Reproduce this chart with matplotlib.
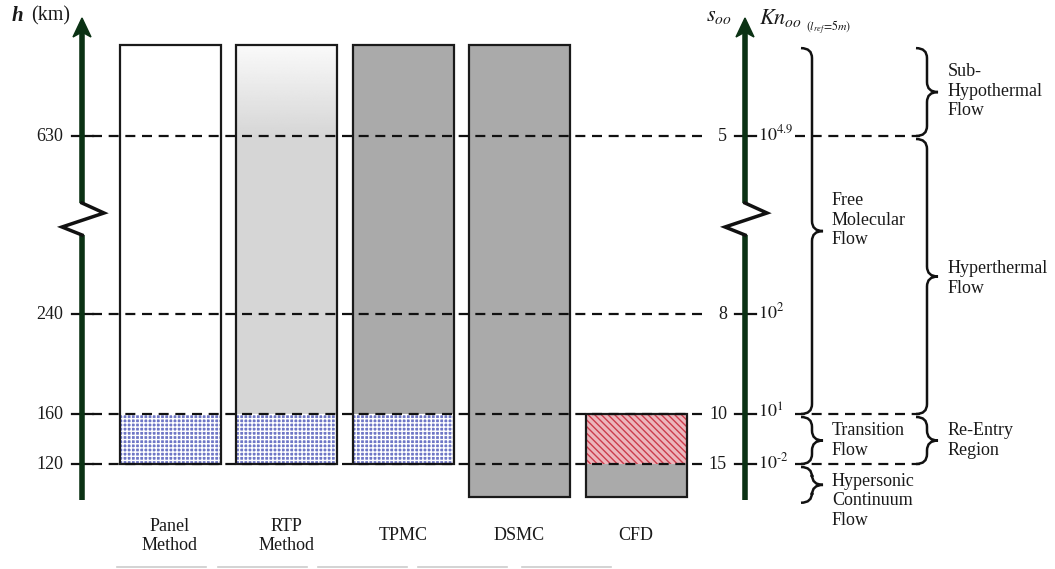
import numpy as np
import matplotlib.pyplot as plt
from matplotlib.patches import Rectangle, Polygon, PathPatch
from matplotlib.path import Path

plt.rcParams['font.family'] = ['Liberation Serif', 'DejaVu Serif']
plt.rcParams['mathtext.fontset'] = 'stix'
plt.rcParams['hatch.linewidth'] = 1.0

# altitude levels and the matching speed ratio / Knudsen number
h_km = [630, 240, 160, 120]
s_inf = ['5', '8', '10', '15']
kn_labels = [r'$10^{4.9}$', r'$10^{2}$', r'$10^{1}$', r'$10^{\text{-}2}$']
h_top, h_bot = 828, 93.6

methods = ['Panel\nMethod', 'RTP\nMethod', 'TPMC', 'DSMC', 'CFD']
# (kind, upper h, lower h) for each column
segments = [
    [('white', h_top, 160), ('dots', 160, 120)],
    [('grad', h_top, 630), ('light', 630, 160), ('dots', 160, 120)],
    [('gray', h_top, 160), ('dots', 160, 120)],
    [('gray', h_top, h_bot)],
    [('red', 160, 120), ('gray', 120, h_bot)],
]

# flow regimes: (label, upper h, lower h)
regimes_left = [('Free\nMolecular\nFlow', h_top, 160),
                ('Transition\nFlow', 160, 120),
                ('Hypersonic\nContinuum\nFlow', 120, 89)]
regimes_right = [('Sub-\nHypothermal\nFlow', h_top, 630),
                 ('Hyperthermal\nFlow', 630, 160),
                 ('Re-Entry\nRegion', 160, 120)]
left_text_shift = [-11, 0, 16]
right_text_shift = [-1, 2, 0]


def hy(h):
    # broken altitude scale: compressed above 240 km
    h = np.asarray(h, float)
    return np.where(h <= 240, 464 - (h - 120) * 1.25, 315 - (h - 240) * (179 / 390.))


def col_x(i):
    return 170 + i * 116.5


fig = plt.figure(figsize=(10.55, 5.69), dpi=100)
ax = fig.add_axes([0, 0, 1, 1])
ax.set_xlim(0, 1055)
ax.set_ylim(569, 0)
ax.axis('off')

GREEN = '#0b3214'
TXT = '#1a1a1a'
bw = 101
styles = {
    'white': dict(facecolor='white'),
    'light': dict(facecolor='#d6d6d6'),
    'gray': dict(facecolor='#aaaaaa'),
    'dots': dict(facecolor='#6f77c6', hatch='++++', edgecolor='white'),
    'red': dict(facecolor='#ecb6bc', hatch='\\\\\\\\\\', edgecolor='#cc3c4c'),
}

for i, segs in enumerate(segments):
    x0 = col_x(i) - bw / 2
    for kind, hi, lo in segs:
        y0, y1 = float(hy(hi)), float(hy(lo))
        if kind == 'grad':
            g = np.linspace(0.98, 0.84, 100)[:, None]
            ax.imshow(g, cmap='gray', vmin=0, vmax=1, aspect='auto',
                      extent=(x0, x0 + bw, y1, y0), interpolation='bilinear', zorder=1)
        else:
            ax.add_patch(Rectangle((x0, y0), bw, y1 - y0, lw=0, zorder=1, **styles[kind]))
    top = float(hy(segs[0][1]))
    bot = float(hy(segs[-1][2]))
    ax.add_patch(Rectangle((x0, top), bw, bot - top, fill=False, lw=1.6,
                           edgecolor='#1a1a1a', zorder=3))
    ax.text(col_x(i), 536, methods[i], ha='center', va='center', fontsize=13,
            linespacing=1.2, color=TXT)

ax.set_xlim(0, 1055)
ax.set_ylim(569, 0)

# dashed level lines and tick labels
for j, h in enumerate(h_km):
    y = float(hy(h))
    ax.plot([92, 708], [y, y], color='#111111', lw=1.6, dashes=(4.5, 3), zorder=4)
    if h != 240:
        ax.plot([795, 920], [y, y], color='#111111', lw=1.6, dashes=(4.5, 3), zorder=4)
    ax.plot([72, 93], [y, y], color='#111111', lw=1.6, zorder=5)
    ax.plot([735, 756], [y, y], color='#111111', lw=1.6, zorder=5)
    ax.text(63, y, str(h), ha='right', va='center', fontsize=13, color=TXT)
    ax.text(727, y, s_inf[j], ha='right', va='center', fontsize=13, color=TXT)
    ax.text(758, y - 2, kn_labels[j], ha='left', va='center', fontsize=13, color=TXT)


def axis_arrow(x):
    ax.plot([x, x], [500, 235], color=GREEN, lw=4, solid_capstyle='butt', zorder=5)
    ax.plot([x, x], [203, 30], color=GREEN, lw=4, solid_capstyle='butt', zorder=5)
    ax.plot([x, x + 22, x - 20, x], [203, 213, 227, 235], color='#111111', lw=2.5,
            solid_joinstyle='miter', zorder=5)
    ax.add_patch(Polygon([(x, 18), (x - 9, 37), (x, 32), (x + 9, 37)], closed=True,
                         facecolor=GREEN, edgecolor=GREEN, lw=1, zorder=6))


axis_arrow(82)
axis_arrow(745)


def brace(x, y1, y2, d=11, r=10):
    ym = (y1 + y2) / 2
    verts = [(x - d, y1), (x, y1), (x, y1 + r), (x, ym - r), (x, ym), (x + d, ym),
             (x, ym), (x, ym + r), (x, y2 - r), (x, y2), (x - d, y2)]
    codes = [Path.MOVETO, Path.CURVE3, Path.CURVE3, Path.LINETO, Path.CURVE3, Path.CURVE3,
             Path.CURVE3, Path.CURVE3, Path.LINETO, Path.CURVE3, Path.CURVE3]
    ax.add_patch(PathPatch(Path(verts, codes), fill=False, lw=1.8, edgecolor='#111111', zorder=5))


for (label, hi, lo), dy in zip(regimes_left, left_text_shift):
    y1, y2 = float(hy(hi)) + 3, float(hy(lo))
    brace(812, y1, y2)
    ax.text(832, (y1 + y2) / 2 + dy, label, ha='left', va='center', fontsize=13,
            linespacing=1.2, color=TXT)
for (label, hi, lo), dy in zip(regimes_right, right_text_shift):
    y1, y2 = float(hy(hi)) + 3, float(hy(lo))
    brace(927, y1, y2)
    ax.text(948, (y1 + y2) / 2 + dy, label, ha='left', va='center', fontsize=13,
            linespacing=1.2, color=TXT)

# axis titles
ax.text(12, 16, 'h', fontsize=15, fontstyle='italic', fontweight='bold', va='center', color=TXT)
ax.text(31, 16, '(km)', fontsize=14.5, va='center', color=TXT)
ax.text(706, 16, r'$s_{oo}$', fontsize=16, va='center', color=TXT)
ax.text(759, 18, r'$Kn_{oo}$', fontsize=16, va='center', color=TXT)
ax.text(806, 27, r'$(l_{ref}\!=\!5m)$', fontsize=8.5, va='center', color=TXT)

# faint cut-off rules at the bottom edge
for x0 in [117, 218, 318, 418, 522]:
    ax.plot([x0, x0 + 89], [567, 567], color='#cccccc', lw=1.2)

fig.savefig('out.png', dpi=100)
